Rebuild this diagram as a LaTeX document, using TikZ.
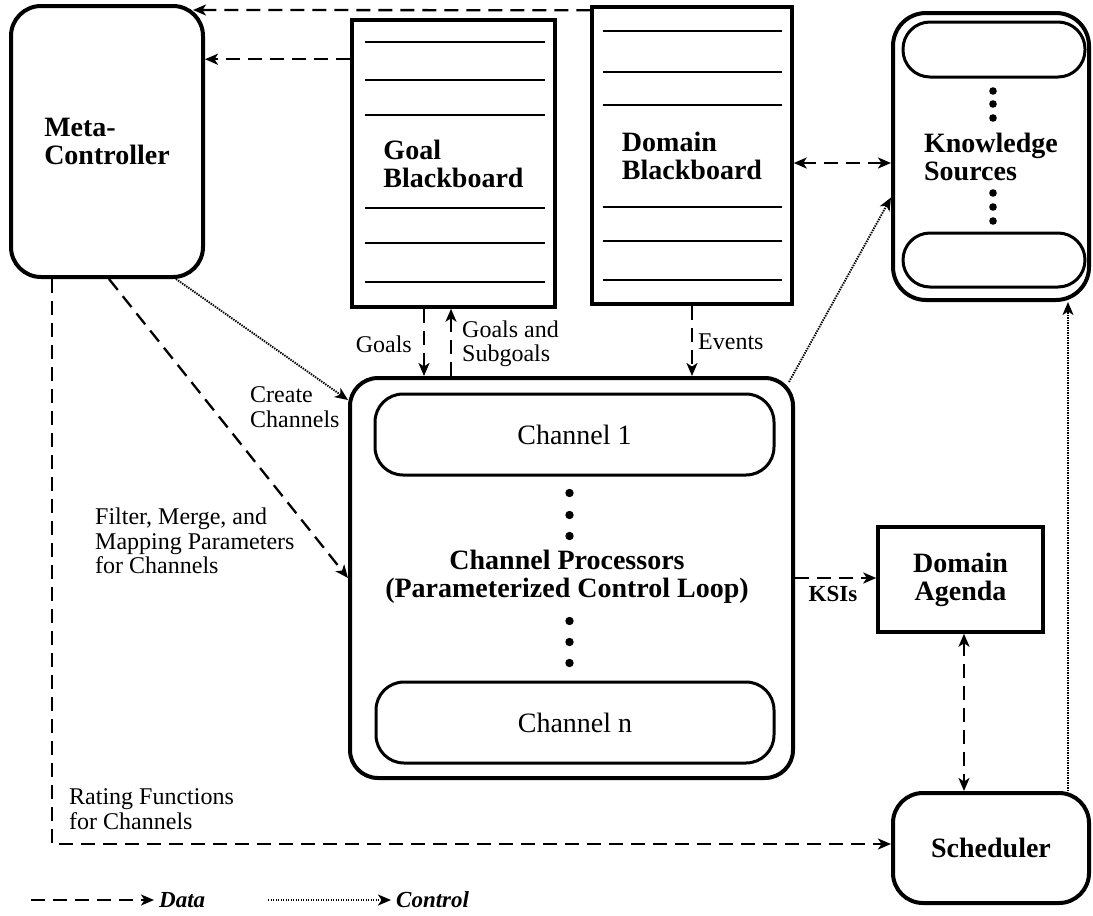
\documentclass[tikz,border=0pt]{standalone}
\usepackage{fontspec}
\setmainfont{Liberation Serif}
\usetikzlibrary{arrows.meta}
\begin{document}
\begin{tikzpicture}[x=1pt,y=-1pt,
  bigfont/.style={font=\bfseries\fontsize{28}{28}\selectfont},
  smallfont/.style={font=\fontsize{24}{24.5}\selectfont},
  box/.style={draw, line width=4pt, rounded corners=30pt, inner sep=0pt, bigfont, align=left},
  bb/.style={draw, line width=3.5pt, inner sep=0pt, bigfont, align=left},
  sq/.style={draw, line width=3.5pt, inner sep=0pt, bigfont, align=center},
  pill/.style={draw, line width=3pt, rounded corners=27pt, inner sep=0pt},
  chpill/.style={draw, line width=3pt, rounded corners=28pt, inner sep=0pt, font=\fontsize{28}{28}\selectfont},
  bbline/.style={line width=2.8pt},
  tipend/.style={-{Stealth[length=13pt,width=11pt,inset=3.5pt]}},
  tipboth/.style={{Stealth[length=13pt,width=11pt,inset=3.5pt]}-{Stealth[length=13pt,width=11pt,inset=3.5pt]}},
  data/.style={line width=2.3pt, dash pattern=on 14pt off 8pt, tipend},
  ctrl/.style={line width=1.9pt, dash pattern=on 1.4pt off 1.1pt, tipend},
  lbl/.style={smallfont, inner sep=0pt, align=left},
  dotmark/.style={fill=black}
]
\fill[white] (0,0) rectangle (1093,916);

% main boxes
\node[box, minimum width=192pt, minimum height=271pt] (mc) at (107,141.5) {Meta-\\Controller};
\node[bb, minimum width=203pt, minimum height=287pt] (gbb) at (453.5,163.5) {Goal\\Blackboard};
\node[bb, minimum width=200pt, minimum height=297pt] (dbb) at (692,155.5) {Domain\\Blackboard};
\node[box, rounded corners=33pt, minimum width=196pt, minimum height=287pt] (ks) at (991,156.5) {Knowledge\\Sources};
\node[pill, minimum width=182pt, minimum height=55pt] (ks1) at (994,49.5) {};
\node[pill, minimum width=182pt, minimum height=54pt] (ks2) at (994,260) {};
\node[box, rounded corners=28pt, minimum width=443pt, minimum height=400pt] (cp) at (571.5,578) {};
\node[chpill, minimum width=399pt, minimum height=81pt] (ch1) at (574.5,434.5) {Channel 1};
\node[chpill, minimum width=398pt, minimum height=81pt] (chn) at (575,722.5) {Channel n};
\node[bigfont, align=center, inner sep=0pt] (cptext) at (567,577) {Channel Processors\\(Parameterized Control Loop)};
\node[sq, minimum width=165pt, minimum height=105pt] (da) at (960.5,579.5) {Domain\\Agenda};
\node[box, align=center, minimum width=196pt, minimum height=110pt] (sch) at (991,848) {Scheduler};

% blackboard lines
\foreach \y in {42,80,115,208,243,282} \draw[bbline] (365,\y) -- (545,\y);
\foreach \y in {31,72,105,207,241,280} \draw[bbline] (603,\y) -- (782,\y);

% dots
\foreach \y in {91,104,118,193,207,221} \fill[dotmark] (993,\y) circle (3.8pt);
\foreach \y in {493,515,536,621,642,663} \fill[dotmark] (569.5,\y) circle (4.2pt);

% connectors
\coordinate (a1) at ([xshift=-12pt,yshift=-6pt]mc.north east);
\draw[data] ([yshift=-5pt]dbb.north west) -- (a1);
\draw[data] ([yshift=-41pt]gbb.north west) coordinate (g1) -- (g1 -| mc.east);
\draw[data, tipboth] ([yshift=-7.5pt]dbb.east) coordinate (d1) -- (d1 -| ks.west);
\draw[data] (dbb.south) -- (dbb.south |- cp.north);
\draw[data] ([xshift=-29.5pt]gbb.south) coordinate (g2) -- (g2 |- cp.north);
\coordinate (g3) at ([xshift=-2.5pt]gbb.south);
\draw[data] (g3 |- cp.north) -- (g3);
\draw[ctrl] ([xshift=-29pt]mc.south east) -- ([yshift=-24pt]cp.north west);
\draw[data] ([xshift=2pt]mc.south) -- (cp.west);
\draw[data] ([xshift=-55pt]mc.south) |- ([yshift=4pt]sch.west);
\draw[data] (cp.east) -- (cp.east -| da.west);
\draw[data, tipboth] ([xshift=3.5pt]da.south) coordinate (d2) -- (d2 |- sch.north);
\draw[ctrl] ([xshift=-6pt,yshift=-6pt]cp.north east) -- ([yshift=-41pt]ks.west);
\draw[ctrl] ([xshift=77pt]sch.north) coordinate (s1) -- (s1 |- ks.south);

% labels
\node[lbl, anchor=east] (lgoals) at (412,344) {Goals};
\node[lbl, anchor=west] (lgs) at (462,344) {Goals and\\Subgoals};
\node[lbl, anchor=west] (lev) at (698,342) {Events};
\node[lbl, anchor=west] (lcc) at (250,407) {Create\\Channels};
\node[lbl, anchor=west] (lfm) at (95,541) {Filter, Merge, and\\Mapping Parameters\\for Channels};
\node[lbl, anchor=west] (lrf) at (69,809) {Rating Functions\\for Channels};
\node[lbl, font=\bfseries\fontsize{23}{24}\selectfont] (lksi) at (833,594) {KSIs};

% legend
\coordinate (l1) at (31,900);
\coordinate (l2) at (154,900);
\coordinate (l3) at (268,900);
\coordinate (l4) at (391,900);
\draw[data] (l1) -- (l2);
\node[lbl, anchor=west, font=\bfseries\itshape\fontsize{23}{24}\selectfont] (ldata) at (159,900) {Data};
\draw[ctrl] (l3) -- (l4);
\node[lbl, anchor=west, font=\bfseries\itshape\fontsize{23}{24}\selectfont] (lctrl) at (396,900) {Control};
\end{tikzpicture}
\end{document}
